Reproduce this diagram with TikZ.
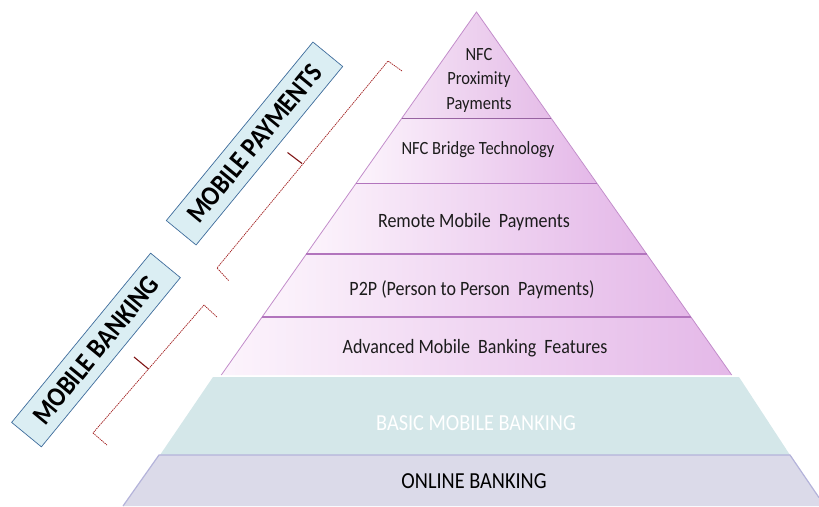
\documentclass[tikz,border=0pt]{standalone}
\usepackage{fontspec}
\setmainfont{Carlito}
\definecolor{lilacL}{HTML}{FCF4FC}
\definecolor{lilacM}{HTML}{F3DDF4}
\definecolor{lilacR}{HTML}{E4B8E8}
\definecolor{apexL}{HTML}{F4E2F5}
\definecolor{apexR}{HTML}{E5BDE8}
\definecolor{edgepurple}{HTML}{C28CCA}
\definecolor{seppurple}{HTML}{B274BD}
\definecolor{basicteal}{HTML}{D4E7E9}
\definecolor{onlinegrey}{HTML}{DBDAE9}
\definecolor{onlineedge}{HTML}{B4B3DA}
\definecolor{labelfill}{HTML}{DBEEF3}
\definecolor{labeledge}{HTML}{3E6C9C}
\definecolor{bracketred}{HTML}{A01C1C}
\definecolor{textdark}{HTML}{1C1C1C}
% slightly taller lettering
\newcommand{\tallfont}[1]{\scalebox{1}[1.13]{#1}}
\begin{document}
\begin{tikzpicture}[x=1pt,y=-1pt,
  layer/.style={left color=lilacL, middle color=lilacM, right color=lilacR},
  sepline/.style={draw=seppurple, line width=1.4pt},
  sideline/.style={draw=edgepurple, line width=0.8pt},
  layertext/.style={text=textdark, font=\fontsize{18}{22}\selectfont, inner sep=0pt},
  bandtext/.style={font=\fontsize{20.3}{24}\selectfont, inner sep=0pt},
  sidelabel/.style={draw=labeledge, fill=labelfill, line width=0.7pt, rotate=50.6,
    minimum height=38.5pt, inner sep=0pt, text=black,
    font=\bfseries\fontsize{24.5}{28}\selectfont},
  brack/.style={draw=bracketred, line width=0.7pt, dash pattern=on 1.4pt off 0.8pt},
  brackmid/.style={draw=bracketred!80!black, line width=1.1pt}]
\useasboundingbox (0,0) rectangle (819,506);
\clip (0,0) rectangle (819,506);

% upper pyramid: purple mobile layers
\shade[left color=apexL, right color=apexR] (476.5,12) -- (551,118.5) -- (402,118.5) -- cycle;
\shade[layer] (402,118.5) -- (551,118.5) -- (596.7,183.5) -- (356.3,183.5) -- cycle;
\shade[layer] (356.3,183.5) -- (596.7,183.5) -- (646.6,254) -- (306.4,254) -- cycle;
\shade[layer] (306.4,254) -- (646.6,254) -- (690.9,317) -- (262.1,317) -- cycle;
\shade[layer] (262.1,317) -- (690.9,317) -- (731.7,375) -- (221.3,375) -- cycle;
\draw[sideline] (221.3,375) -- (476.5,12) -- (731.7,375);
\draw[sepline, draw=seppurple!85!black, line width=1.8pt] (402,118.5) -- (551,118.5);
\draw[sepline] (356.3,183.5) -- (596.7,183.5);
\draw[sepline] (306.4,254) -- (646.6,254);
\draw[sepline] (262.1,317) -- (690.9,317);

% lower bands
\fill[basicteal] (213,377) -- (739,377) -- (790,455) -- (160,455) -- cycle;
\fill[onlinegrey] (159,455) -- (790,455) -- (819,497.6) -- (819,506) -- (123,506) -- cycle;
\draw[onlineedge, line width=1.2pt] (123,506) -- (159,455) -- (790,455) -- (819,497.6);

% layer texts
\node[layertext, font=\fontsize{16.5}{21.5}\selectfont] (nfcprox) at (479,80)
  {\tallfont{\begin{tabular}{@{}c@{}}NFC\\Proximity\\Payments\end{tabular}}};
\node[layertext, font=\fontsize{16.5}{20}\selectfont] (nfcbridge) at (478,150) {\tallfont{NFC Bridge Technology}};
\node[layertext] (remote) at (474,222) {\tallfont{Remote Mobile\ \ Payments}};
\node[layertext] (ptop) at (472,290) {\tallfont{P2P (Person to Person\ \ Payments)}};
\node[layertext] (advanced) at (475,348) {\tallfont{Advanced Mobile\ \ Banking\ \ Features}};
\node[bandtext, text=white] (basic) at (476,423) {\tallfont{BASIC MOBILE BANKING}};
\node[bandtext, text=black] (online) at (474,481) {\tallfont{ONLINE BANKING}};

% side labels
\node[sidelabel, minimum width=231pt] (lblpay) at (254.5,143.5) {\tallfont{MOBILE PAYMENTS}};
\node[sidelabel, minimum width=219pt] (lblbank) at (96,350) {\tallfont{MOBILE BANKING}};

% bracket for mobile payments
\coordinate (pa) at (402,71);
\coordinate (pb) at (388,61);
\coordinate (pc) at (217,268);
\coordinate (pd) at (229,281);
\coordinate (pm) at (302,163.5);
\coordinate (pt) at (287.5,152.5);
\draw[brack] (pa) -- (pb) -- (pc) -- (pd);
\draw[brackmid] (pm) -- (pt);

% bracket for mobile banking
\coordinate (ba) at (217,317);
\coordinate (bb) at (204,305);
\coordinate (bc) at (93,433);
\coordinate (bd) at (107,445);
\coordinate (bm) at (148.5,369);
\coordinate (bt) at (134,357);
\draw[brack] (ba) -- (bb) -- (bc) -- (bd);
\draw[brackmid] (bm) -- (bt);
\end{tikzpicture}
\end{document}
